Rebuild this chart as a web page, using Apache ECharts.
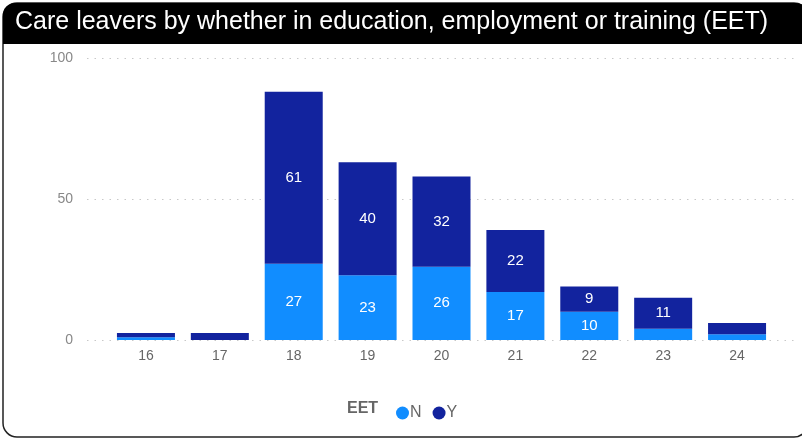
<!DOCTYPE html>
<html>
<head>
<meta charset="utf-8">
<script src="https://cdn.jsdelivr.net/npm/echarts@6/dist/echarts.min.js"></script>
<style>html,body{margin:0;padding:0;background:#fff;}#c{width:802px;height:439px;}</style>
</head>
<body>
<div id="c"></div>
<script>
var categories = ['16','17','18','19','20','21','22','23','24'];
var seriesN = [1, 0, 27, 23, 26, 17, 10, 4, 2];
var seriesY = [1.5, 2.5, 61, 40, 32, 22, 9, 11, 4];
var yTicks = [0, 50, 100];

var chart = echarts.init(document.getElementById('c'));
function lbl(p){ return p.value >= 8 ? String(p.value) : ''; }
var font = 'Liberation Sans, Arial, sans-serif';
chart.setOption({
  animation: false,
  textStyle: { fontFamily: font },
  graphic: [
    { type: 'rect', z: 0, shape: { x: 3, y: 3, width: 805, height: 434, r: 14 }, style: { fill: '#fff', stroke: '#222', lineWidth: 1.5 } },
    { type: 'rect', z: 1, shape: { x: 3, y: 3, width: 805, height: 41, r: [12, 12, 0, 0] }, style: { fill: '#000' } },
    { type: 'text', z: 2, left: 15, top: 10, style: { text: 'Care leavers by whether in education, employment or training (EET)', fill: '#fff', font: '25px ' + font } },
    { type: 'text', z: 2, left: 347, top: 401, style: { text: 'EET', fill: '#666', font: 'bold 16px ' + font } }
  ],
  legend: {
    data: ['N', 'Y'], left: 391, top: 400, icon: 'circle', itemWidth: 13, itemHeight: 13, itemGap: 11,
    textStyle: { color: '#666', fontSize: 16, padding: [0, 0, 0, -4] }
  },
  grid: [
    { left: 87, right: 7, top: 58, bottom: 99 },
    { left: 109, right: 28, top: 58, bottom: 99 }
  ],
  xAxis: [
    { gridIndex: 0, type: 'value', show: false, min: 0, max: 1 },
    { gridIndex: 1, type: 'category', data: categories,
      axisLine: { show: false }, axisTick: { show: false },
      axisLabel: { color: '#666', fontSize: 14, margin: 9 } }
  ],
  yAxis: [
    { gridIndex: 0, type: 'value', min: 0, max: 100, interval: 50,
      axisLine: { show: false }, axisTick: { show: false },
      axisLabel: { color: '#888', fontSize: 14, margin: 14, formatter: function(v){ return yTicks.indexOf(v) >= 0 ? String(v) : ''; } },
      splitLine: { lineStyle: { type: [1.5, 6], color: '#c8c8c8', width: 1 } } },
    { gridIndex: 1, type: 'value', min: 0, max: 100, interval: 50, show: false, splitLine: { show: false } }
  ],
  series: [
    { name: 'N', type: 'bar', stack: 'a', xAxisIndex: 1, yAxisIndex: 1, data: seriesN, barCategoryGap: '21.5%',
      itemStyle: { color: '#118DFF' },
      label: { show: true, position: 'inside', color: '#fff', fontSize: 15, formatter: lbl } },
    { name: 'Y', type: 'bar', stack: 'a', xAxisIndex: 1, yAxisIndex: 1, data: seriesY, barCategoryGap: '21.5%',
      itemStyle: { color: '#12239E' },
      label: { show: true, position: 'inside', color: '#fff', fontSize: 15, formatter: lbl } }
  ]
});
</script>
</body>
</html>
